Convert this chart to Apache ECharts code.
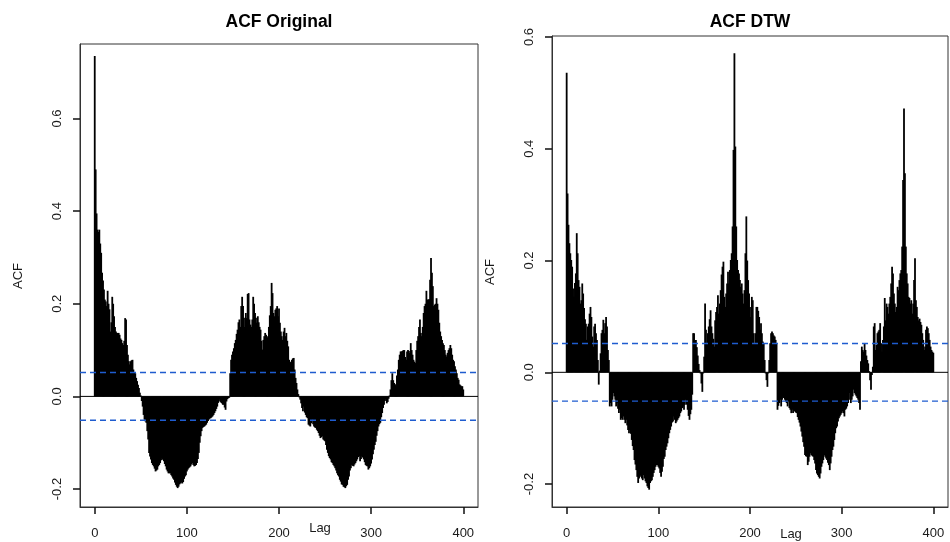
<!DOCTYPE html>
<html>
<head>
<meta charset="utf-8">
<script src="https://cdn.jsdelivr.net/npm/echarts@6/dist/echarts.min.js"></script>
<style>
  html, body { margin: 0; padding: 0; background: #ffffff; }
  #chart { width: 950px; height: 542px; }
</style>
</head>
<body>
<div id="chart"></div>
<script>
// Tick positions shared by both panels
const lagTicks = [0, 100, 200, 300, 400];
const acfTicks = [-0.2, 0, 0.2, 0.4, 0.6];
// Lag axis extent (4% padding either side of 0..400)
const lagRange = [-16, 416];
// Approximate 95% white-noise band
const ciBound = 0.0515;

// Autocorrelation of the original series, lags 0..400
const acfOriginal = [
  0.735, 0.49, 0.395, 0.36, 0.355, 0.36, 0.33, 0.31, 0.267, 0.25,
  0.231, 0.209, 0.205, 0.195, 0.228, 0.2, 0.188, 0.14, 0.16, 0.215,
  0.2, 0.173, 0.15, 0.14, 0.137, 0.137, 0.137, 0.133, 0.125, 0.122,
  0.115, 0.111, 0.12, 0.169, 0.166, 0.111, 0.09, 0.076, 0.069, 0.076,
  0.078, 0.079, 0.058, 0.052, 0.05, 0.04, 0.033, 0.025, 0.018, 0.008,
  0.002, -0.01, -0.022, -0.04, -0.05, -0.054, -0.057, -0.075, -0.093, -0.122,
  -0.13, -0.136, -0.144, -0.148, -0.151, -0.156, -0.162, -0.16, -0.158, -0.151,
  -0.148, -0.144, -0.138, -0.133, -0.137, -0.14, -0.146, -0.151, -0.158, -0.162,
  -0.166, -0.166, -0.166, -0.17, -0.173, -0.177, -0.18, -0.186, -0.191, -0.195,
  -0.198, -0.195, -0.19, -0.188, -0.186, -0.188, -0.185, -0.178, -0.173, -0.17,
  -0.162, -0.158, -0.155, -0.153, -0.151, -0.147, -0.144, -0.148, -0.151, -0.15,
  -0.148, -0.144, -0.135, -0.122, -0.1, -0.086, -0.075, -0.068, -0.066, -0.065,
  -0.063, -0.061, -0.057, -0.053, -0.05, -0.048, -0.047, -0.045, -0.043, -0.04,
  -0.036, -0.032, -0.027, -0.022, -0.014, -0.007, -0.011, -0.013, -0.015, -0.018,
  -0.018, -0.024, -0.029, -0.011, -0.006, -0.004, -0.003, 0.05, 0.079, 0.09,
  0.097, 0.104, 0.115, 0.122, 0.135, 0.144, 0.16, 0.166, 0.15, 0.195,
  0.215, 0.195, 0.17, 0.15, 0.18, 0.169, 0.221, 0.223, 0.166, 0.155,
  0.15, 0.166, 0.215, 0.2, 0.18, 0.17, 0.159, 0.173, 0.16, 0.15,
  0.144, 0.12, 0.101, 0.122, 0.13, 0.137, 0.133, 0.13, 0.126, 0.15,
  0.175, 0.195, 0.245, 0.223, 0.18, 0.173, 0.187, 0.19, 0.195, 0.173,
  0.19, 0.159, 0.14, 0.13, 0.122, 0.14, 0.148, 0.13, 0.137, 0.12,
  0.108, 0.079, 0.075, 0.072, 0.079, 0.082, 0.083, 0.058, 0.04, 0.029,
  0.015, 0.005, -0.002, -0.007, -0.015, -0.025, -0.032, -0.022, -0.035, -0.04,
  -0.045, -0.047, -0.061, -0.063, -0.065, -0.058, -0.05, -0.06, -0.065, -0.067,
  -0.068, -0.072, -0.075, -0.079, -0.085, -0.09, -0.088, -0.086, -0.093, -0.095,
  -0.097, -0.105, -0.115, -0.122, -0.129, -0.133, -0.136, -0.142, -0.144, -0.148,
  -0.151, -0.155, -0.16, -0.166, -0.17, -0.173, -0.18, -0.184, -0.19, -0.191,
  -0.195, -0.196, -0.198, -0.194, -0.191, -0.18, -0.173, -0.16, -0.155, -0.148,
  -0.15, -0.151, -0.147, -0.144, -0.14, -0.136, -0.131, -0.129, -0.14, -0.135,
  -0.129, -0.132, -0.136, -0.142, -0.148, -0.15, -0.151, -0.158, -0.155, -0.151,
  -0.145, -0.136, -0.125, -0.115, -0.105, -0.098, -0.085, -0.075, -0.065, -0.06,
  -0.057, -0.045, -0.036, -0.025, -0.018, -0.01, -0.007, -0.015, -0.012, -0.005,
  0.002, 0.015, 0.035, 0.05, 0.035, 0.029, 0.026, 0.022, 0.045, 0.058,
  0.079, 0.09, 0.097, 0.097, 0.098, 0.1, 0.1, 0.085, 0.079, 0.097,
  0.1, 0.098, 0.094, 0.115, 0.1, 0.09, 0.079, 0.075, 0.072, 0.1,
  0.12, 0.13, 0.15, 0.166, 0.137, 0.13, 0.15, 0.18, 0.195, 0.2,
  0.228, 0.209, 0.209, 0.21, 0.252, 0.299, 0.267, 0.238, 0.195, 0.198,
  0.2, 0.212, 0.2, 0.187, 0.159, 0.14, 0.13, 0.122, 0.115, 0.111,
  0.1, 0.09, 0.086, 0.094, 0.1, 0.104, 0.111, 0.104, 0.09, 0.079,
  0.076, 0.065, 0.058, 0.05, 0.04, 0.036, 0.026, 0.024, 0.022, 0.022,
  0.015
];

// Autocorrelation after DTW alignment, lags 0..400
const acfDtw = [
  0.536, 0.32, 0.264, 0.231, 0.213, 0.201, 0.189, 0.15, 0.135, 0.16,
  0.177, 0.249, 0.213, 0.165, 0.153, 0.123, 0.129, 0.159, 0.141, 0.115,
  0.095, 0.087, 0.058, 0.082, 0.087, 0.105, 0.117, 0.099, 0.064, 0.046,
  0.082, 0.087, 0.07, 0.058, 0.022, -0.022, 0.003, 0.034, 0.07, 0.076,
  0.094, 0.07, 0.088, 0.099, 0.082, 0.04, 0.022, -0.061, -0.055, -0.061,
  -0.049, -0.037, -0.043, -0.049, -0.061, -0.055, -0.065, -0.073, -0.067, -0.085,
  -0.082, -0.085, -0.079, -0.085, -0.091, -0.085, -0.095, -0.103, -0.109, -0.103,
  -0.11, -0.121, -0.132, -0.139, -0.157, -0.165, -0.175, -0.187, -0.198, -0.19,
  -0.187, -0.184, -0.19, -0.193, -0.184, -0.19, -0.195, -0.198, -0.204, -0.207,
  -0.21, -0.198, -0.195, -0.193, -0.187, -0.18, -0.175, -0.169, -0.166, -0.166,
  -0.169, -0.172, -0.18, -0.187, -0.178, -0.169, -0.155, -0.151, -0.139, -0.133,
  -0.127, -0.118, -0.109, -0.103, -0.097, -0.09, -0.088, -0.079, -0.085, -0.091,
  -0.088, -0.085, -0.082, -0.079, -0.073, -0.07, -0.064, -0.061, -0.067, -0.058,
  -0.049, -0.058, -0.067, -0.078, -0.085, -0.075, -0.067, -0.04, 0.07, 0.07,
  0.055, 0.058, 0.045, 0.03, 0.015, 0.004, -0.002, -0.02, -0.035, -0.002,
  0.028, 0.123, 0.076, 0.052, 0.07, 0.082, 0.095, 0.111, 0.082, 0.07,
  0.06, 0.046, 0.093, 0.108, 0.117, 0.138, 0.105, 0.123, 0.147, 0.175,
  0.189, 0.198, 0.135, 0.117, 0.141, 0.159, 0.18, 0.159, 0.183, 0.201,
  0.213, 0.261, 0.398, 0.571, 0.404, 0.261, 0.201, 0.183, 0.177, 0.165,
  0.153, 0.159, 0.141, 0.123, 0.147, 0.213, 0.279, 0.2, 0.165, 0.141,
  0.117, 0.099, 0.135, 0.129, 0.07, 0.052, 0.07, 0.117, 0.117, 0.11,
  0.099, 0.076, 0.088, 0.07, 0.055, 0.052, 0.022, -0.002, -0.014, -0.026,
  -0.002, 0.022, 0.052, 0.07, 0.073, 0.07, 0.066, 0.064, 0.058, 0.052,
  -0.067, -0.06, -0.055, -0.049, -0.061, -0.049, -0.043, -0.046, -0.049, -0.052,
  -0.055, -0.061, -0.052, -0.064, -0.067, -0.073, -0.067, -0.073, -0.067, -0.07,
  -0.072, -0.073, -0.08, -0.085, -0.09, -0.097, -0.106, -0.115, -0.125, -0.133,
  -0.148, -0.15, -0.151, -0.166, -0.16, -0.151, -0.145, -0.148, -0.15, -0.151,
  -0.157, -0.163, -0.175, -0.181, -0.184, -0.187, -0.19, -0.181, -0.169, -0.163,
  -0.157, -0.148, -0.151, -0.154, -0.157, -0.162, -0.166, -0.175, -0.163, -0.151,
  -0.139, -0.133, -0.121, -0.109, -0.1, -0.097, -0.088, -0.082, -0.079, -0.076,
  -0.073, -0.07, -0.073, -0.079, -0.067, -0.065, -0.061, -0.055, -0.049, -0.037,
  -0.055, -0.049, -0.043, -0.031, -0.037, -0.04, -0.043, -0.046, -0.049, -0.055,
  -0.067, 0.02, 0.046, 0.04, 0.037, 0.052, 0.04, 0.03, 0.022, 0.016,
  0.002, -0.014, -0.031, -0.005, 0.01, 0.082, 0.088, 0.04, 0.049, 0.07,
  0.073, 0.076, 0.088, 0.052, 0.037, 0.058, 0.082, 0.133, 0.093, 0.123,
  0.117, 0.105, 0.123, 0.135, 0.159, 0.189, 0.177, 0.141, 0.123, 0.108,
  0.117, 0.153, 0.147, 0.165, 0.177, 0.183, 0.225, 0.344, 0.472, 0.356,
  0.225, 0.177, 0.159, 0.135, 0.133, 0.123, 0.129, 0.105, 0.123, 0.165,
  0.204, 0.129, 0.117, 0.099, 0.093, 0.096, 0.09, 0.085, 0.07, 0.058,
  0.04, 0.046, 0.076, 0.082, 0.079, 0.07, 0.058, 0.046, 0.04, 0.037,
  0.035
];

const FONT = '"Liberation Sans", Arial, Helvetica, sans-serif';
const INK = '#1a1a1a';
const BAND_BLUE = '#1f5ccf';

const panels = [
  { title: 'ACF Original', values: acfOriginal, grid: { left: 80, top: 44, width: 398, height: 463 }, yMin: -0.2388, yMax: 0.7608,
    lagPos: [320, 528], acfPos: [18, 276] },
  { title: 'ACF DTW', values: acfDtw, grid: { left: 552, top: 36, width: 396, height: 471 }, yMin: -0.241, yMax: 0.6018,
    lagPos: [791, 534], acfPos: [490, 272] }
];

const chart = echarts.init(document.getElementById('chart'), null, { renderer: 'canvas' });

// Horizontal reference line across the full lag range of a panel
function hLine(i, level, color, width, dash, z) {
  return {
    type: 'line', xAxisIndex: i, yAxisIndex: i,
    data: lagRange.map(x => [x, level]),
    symbol: 'none', silent: true, z: z,
    lineStyle: { color: color, width: width, type: dash, opacity: 1 },
    emphasis: { disabled: true }
  };
}

const series = [];
panels.forEach((p, i) => {
  // one vertical stick per lag
  series.push({
    type: 'bar', xAxisIndex: i, yAxisIndex: i,
    data: p.values.map((v, lag) => [lag, v]),
    barWidth: 1.8,
    itemStyle: { color: '#000000' },
    silent: true,
    z: 2
  });
  series.push(hLine(i, 0, '#000000', 1, 'solid', 3));
  series.push(hLine(i, ciBound, BAND_BLUE, 1.4, [6, 4], 4));
  series.push(hLine(i, -ciBound, BAND_BLUE, 1.4, [6, 4], 4));
});

const option = {
  animation: false,
  backgroundColor: '#ffffff',
  grid: panels.map(p => Object.assign({ show: true, borderColor: '#333', borderWidth: 1, backgroundColor: 'transparent' }, p.grid)),
  xAxis: panels.map((p, i) => ({
    type: 'value', gridIndex: i, min: lagRange[0], max: lagRange[1],
    axisLine: { show: true, onZero: false, lineStyle: { color: '#333', width: 1 } },
    splitLine: { show: false },
    axisTick: { show: true, length: 7, lineStyle: { color: '#111', width: 1.5 }, customValues: lagTicks },
    axisLabel: { margin: 20, fontSize: 13, color: INK, fontFamily: FONT, customValues: lagTicks }
  })),
  yAxis: panels.map((p, i) => ({
    type: 'value', gridIndex: i, min: p.yMin, max: p.yMax,
    axisLine: { show: true, onZero: false, lineStyle: { color: '#333', width: 1 } },
    splitLine: { show: false },
    axisTick: { show: true, length: 7, lineStyle: { color: '#111', width: 1.5 }, customValues: acfTicks },
    axisLabel: { rotate: 90, margin: 16, fontSize: 13, color: INK, fontFamily: FONT,
      customValues: acfTicks, formatter: v => (Math.abs(v) < 1e-9 ? '0.0' : v.toFixed(1)) }
  })),
  series: series,
  graphic: panels.flatMap(p => {
    const cx = p.grid.left + p.grid.width / 2;
    return [
      { type: 'text', x: cx, y: 22, style: { text: p.title, font: 'bold 17.5px ' + FONT, fill: '#000', align: 'center', verticalAlign: 'middle' } },
      { type: 'text', x: p.lagPos[0], y: p.lagPos[1], style: { text: 'Lag', font: '13px ' + FONT, fill: INK, align: 'center', verticalAlign: 'middle' } },
      { type: 'text', x: p.acfPos[0], y: p.acfPos[1], rotation: Math.PI / 2, style: { text: 'ACF', font: '13px ' + FONT, fill: INK, align: 'center', verticalAlign: 'middle' } }
    ];
  })
};

chart.setOption(option);
</script>
</body>
</html>
